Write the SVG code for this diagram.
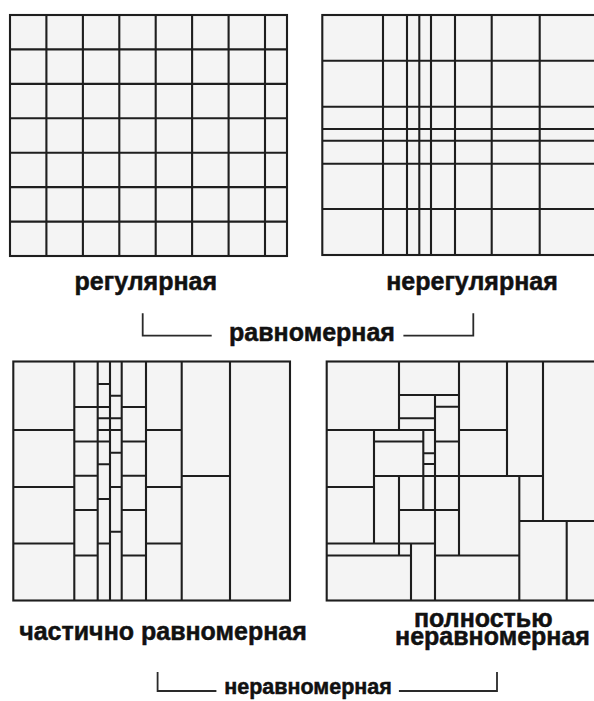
<svg xmlns="http://www.w3.org/2000/svg" width="594" height="701" viewBox="0 0 594 701">
<style>
.cell{fill:#f4f4f4;stroke:#1e1e1e;stroke-width:2.1}
.ln{fill:none;stroke:#1e1e1e;stroke-width:2.1}
.br{fill:none;stroke:#2a2a2a;stroke-width:1.8}
.lbl{font-family:"Liberation Sans",Arial,sans-serif;font-weight:bold;fill:#111;stroke:#111;stroke-width:0.5;text-anchor:middle}
.big{font-size:25px}
.small{font-size:21.5px}
</style>
<rect width="594" height="701" fill="#ffffff"/>
<g id="grid-regular">
<rect class="cell" x="10" y="15" width="277" height="241"/>
<path class="ln" d="M46.4 15V256M82.9 15V256M119.3 15V256M155.7 15V256M192.1 15V256M228.6 15V256M265 15V256M10 49.4H287M10 83.9H287M10 118.3H287M10 152.7H287M10 187.1H287M10 221.6H287"/>
</g>
<g id="grid-irregular">
<rect class="cell" x="322.3" y="15" width="290" height="240"/>
<path class="ln" d="M383 15V255M407 15V255M419.3 15V255M431 15V255M455 15V255M491.7 15V255M539.7 15V255M322.3 60.7H600M322.3 106.7H600M322.3 129H600M322.3 140.7H600M322.3 163.7H600M322.3 209H600"/>
</g>
<g id="grid-partial">
<rect class="cell" x="13.3" y="361.5" width="276.7" height="239"/>
<path class="ln" d="M74.3 361.5V600.5M97.7 361.5V600.5M110 361.5V600.5M121.7 361.5V600.5M146 361.5V600.5M181.7 361.5V600.5M230 361.5V600.5
M13.3 430H74.3M13.3 487H74.3M13.3 543.5H74.3
M74.3 407H97.7M74.3 441.5H97.7M74.3 475.7H97.7M74.3 510H97.7M74.3 555.5H97.7
M97.7 384H110M97.7 407H110M97.7 418.3H110M97.7 430H110M97.7 441.5H110M97.7 464.3H110M97.7 499H110M97.7 543.5H110
M110 395.7H121.7M110 418.3H121.7M110 430H121.7M110 452.7H121.7M110 487H121.7M110 531.7H121.7
M121.7 407H146M121.7 441.5H146M121.7 475.7H146M121.7 510H146M121.7 555.5H146
M146 430H181.7M146 487H181.7M146 543.5H181.7
M181.7 476H230"/>
</g>
<g id="grid-nonuniform">
<rect class="cell" x="326.7" y="361.5" width="290" height="239"/>
<path class="ln" d="M399 361.5V430M399 395H459M459 361.5V555.5M435 395V600.5M435 406.7H459M399 418.3H435M326.7 430H435M459 430H507M507 361.5V476M543 361.5V521M374 476H543M374 430V543.5M326.7 487H374M374 441.5H423.3M423.3 430V510M423.3 453.3H435M423.3 464H435M399 476V555.5M399 510H459M435 441.5H459M326.7 543.5H435M326.7 555.5H411M411 543.5V600.5M435 555.5H519.3M519.3 476V600.5M519.3 521H600M566.7 521V600.5"/>
</g>
<g id="connectors">
<path class="br" d="M142.7 313.3V335.7H211.7M403.4 335.7H473.3V313.3"/>
<path class="br" d="M157.6 672V691H216.4M398.9 691H497V672"/>
</g>
<g id="labels">
<text class="lbl big" x="145.8" y="290">регулярная</text>
<text class="lbl big" x="472" y="290">нерегулярная</text>
<text class="lbl big" x="312" y="341">равномерная</text>
<text class="lbl big" x="163" y="640">частично равномерная</text>
<text class="lbl big"><tspan x="483.3" y="627">полностью</tspan><tspan x="492.5" y="645">неравномерная</tspan></text>
<text class="lbl small" x="308" y="694">неравномерная</text>
</g>
</svg>
